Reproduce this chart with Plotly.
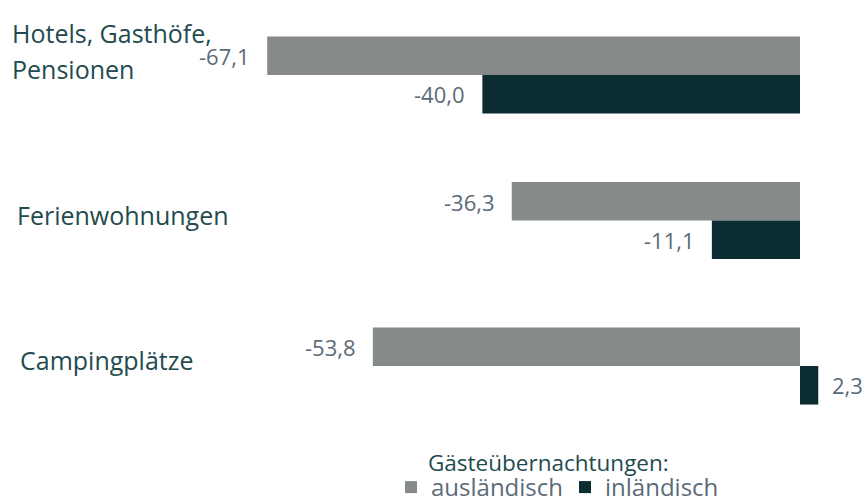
import plotly.graph_objects as go

categories = ["Hotels, Gasthöfe,\nPensionen", "Ferienwohnungen", "Campingplätze"]
series_names = ["ausländisch", "inländisch"]
auslaendisch = [-67.1, -36.3, -53.8]
inlaendisch = [-40.0, -11.1, 2.3]
legend_title = "Gästeübernachtungen:"

colors = ["#878a8b", "#0b2c30"]
label_color = "#234b4f"
value_color = "#5c6b77"
FONT = "Open Sans"

W, H = 864, 501
PLOT_H = 438
label_x_px = [10, 15, 18]

cat_keys = [c.replace("\n", " ") for c in categories]

fig = go.Figure()
for name, vals, col in zip(series_names, [auslaendisch, inlaendisch], colors):
    fig.add_trace(go.Bar(
        y=cat_keys, x=vals, name=name, orientation="h",
        marker=dict(color=col, line=dict(width=0)),
        hoverinfo="skip",
    ))

annotations = []
# category labels, left-aligned
for key, lab, lx in zip(cat_keys, categories, label_x_px):
    lines = lab.split("\n")
    for j, line in enumerate(reversed(lines)):
        annotations.append(dict(
            x=lx / W, xref="paper", y=key, yref="y", text=line,
            xanchor="left", yanchor="middle", showarrow=False,
            yshift=6 + 36 * j,
            font=dict(family=FONT, size=25, color=label_color),
        ))

# value labels
for si, vals in enumerate([auslaendisch, inlaendisch]):
    for key, v in zip(cat_keys, vals):
        txt = f"{v:.1f}".replace(".", ",")
        annotations.append(dict(
            x=v, xref="x", y=key, yref="y", text=txt,
            xanchor="right" if v < 0 else "left", yanchor="middle",
            xshift=-15 if v < 0 else 12,
            yshift=19 if si == 0 else -19,
            showarrow=False,
            font=dict(family=FONT, size=22, color=value_color),
        ))

# legend heading
annotations.append(dict(
    x=426 / W, xref="paper", y=-(462 - PLOT_H) / PLOT_H, yref="paper",
    text=legend_title, xanchor="left", yanchor="middle", showarrow=False,
    font=dict(family=FONT, size=22.5, color=label_color),
))

fig.update_layout(
    width=W, height=H,
    margin=dict(l=0, r=0, t=0, b=H - PLOT_H, autoexpand=False),
    paper_bgcolor="white", plot_bgcolor="white",
    barmode="group", bargap=0.47, bargroupgap=0,
    separators=",.",
    font=dict(family=FONT, size=22, color=value_color),
    xaxis=dict(range=[-100.75, 8.06], showgrid=False, zeroline=False,
               showticklabels=False, fixedrange=True),
    yaxis=dict(categoryorder="array", categoryarray=cat_keys,
               range=[2.4948, -0.5155], showgrid=False, zeroline=False,
               showticklabels=False, fixedrange=True),
    legend=dict(
        orientation="h", x=391 / W, xanchor="left",
        y=-(465 - PLOT_H) / PLOT_H, yanchor="top",
        font=dict(family=FONT, size=24, color=value_color),
        itemwidth=30, entrywidth=129, entrywidthmode="pixels",
        tracegroupgap=0, traceorder="normal",
        bgcolor="rgba(0,0,0,0)",
    ),
    annotations=annotations,
    showlegend=True,
)

# the page's default body margin would shift/clip the figure; remove it
fig.write_html("out.html",
               config={"displayModeBar": False},
               post_script="document.body.style.margin='0';")
